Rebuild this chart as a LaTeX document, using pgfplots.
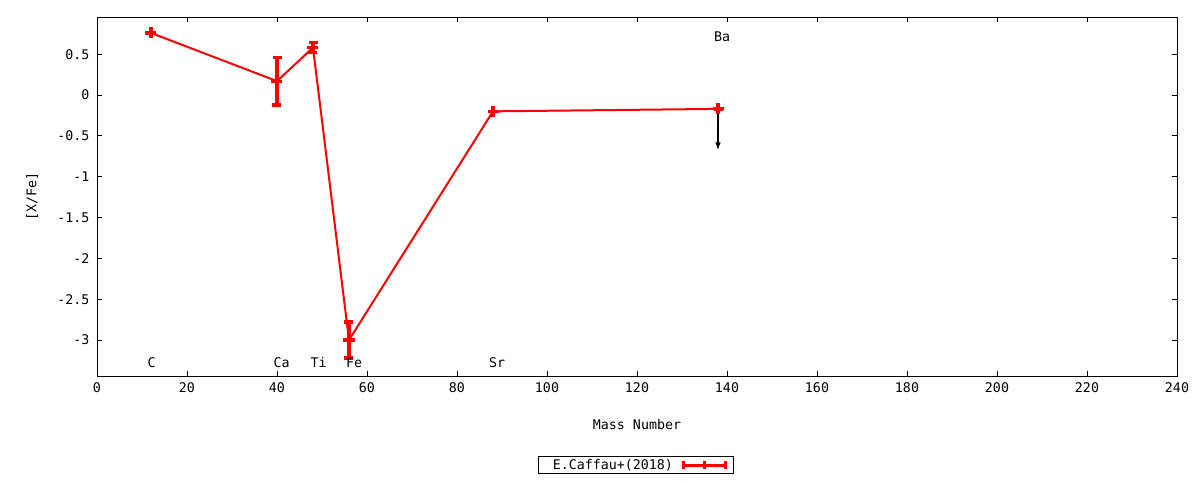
\documentclass[border=0pt]{standalone}
\usepackage{fontspec}
\setmainfont{DejaVu Sans Mono}
\setmonofont{DejaVu Sans Mono}
\usepackage{pgfplots}
\pgfplotsset{compat=1.18}

\begin{document}
\begin{tikzpicture}[font=\fontsize{13.3}{15}\selectfont]
\path[use as bounding box] (-97pt,-104pt) rectangle (1103pt,376pt);
\begin{axis}[
    scale only axis,
    width=1080pt, height=359pt,
    xmin=0, xmax=240,
    ymin=-3.44, ymax=0.955,
    xtick={0,20,...,240},
    xticklabels={0,20,40,60,80,100,120,140,160,180,200,220,240},
    ytick={-3,-2.5,-2,-1.5,-1,-0.5,0,0.5},
    yticklabels={-3,-2.5,-2,-1.5,-1,-0.5,0,0.5},
    tick align=inside,
    major tick length=5pt,
    minor tick num=0,
    tick style={black, line width=0.8pt},
    axis line style={black, line width=0.8pt},
    xlabel={Mass Number},
    ylabel={[X/Fe]},
    xlabel style={at={(0.5,-0.136)}, anchor=center},
    ylabel style={at={(-0.060,0.5)}, anchor=center},
    xticklabel style={yshift=-3pt},
    yticklabel style={xshift=-4pt},
    legend style={at={(0.499,-0.248)}, anchor=center, draw=black,
        line width=0.8pt, inner xsep=6pt, inner ysep=1pt,
        cells={anchor=west}},
    legend plot pos=right,
    legend image code/.code={
        \draw[red, line width=3pt] (0pt,0pt) -- (42pt,0pt);
        \draw[red, line width=3pt] (0pt,-4pt) -- (0pt,4pt);
        \draw[red, line width=3pt] (21pt,-4pt) -- (21pt,4pt);
        \draw[red, line width=3pt] (42pt,-4pt) -- (42pt,4pt);
    },
    clip=false,
]

\addplot[
    color=red,
    line width=2pt,
    mark=+,
    mark size=5.5pt,
    mark options={line width=3.2pt},
    error bars/.cd,
        y dir=both, y explicit,
        error mark options={rotate=90, mark size=4.5pt, line width=3.5pt, red},
        error bar style={line width=3.5pt, red},
    ]
    coordinates {
    (12,0.76) +- (0,0)
    (40,0.17) +- (0,0.29)
    (48,0.58) +- (0,0.06)
    (56,-3.0) +- (0,0.22)
    (88,-0.2) +- (0,0)
    (138,-0.17) +- (0,0)
    };
\addlegendentry{\kern6pt E.Caffau+(2018)\kern7pt\relax}

\addplot[
    black,
    line width=1.5pt,
    -latex,
    quiver={u=0, v=-0.5},
    forget plot,
    ]
    coordinates {
    (138,-0.17)
    };

\node[anchor=west, inner sep=0pt] at (axis cs:11.2,-3.28) {C};
\node[anchor=west, inner sep=0pt] at (axis cs:39.2,-3.28) {Ca};
\node[anchor=west, inner sep=0pt] at (axis cs:47.4,-3.28) {Ti};
\node[anchor=west, inner sep=0pt] at (axis cs:55.3,-3.28) {Fe};
\node[anchor=west, inner sep=0pt] at (axis cs:87.1,-3.28) {Sr};
\node[anchor=west, inner sep=0pt] at (axis cs:137.1,0.71) {Ba};

\end{axis}
\end{tikzpicture}
\end{document}
